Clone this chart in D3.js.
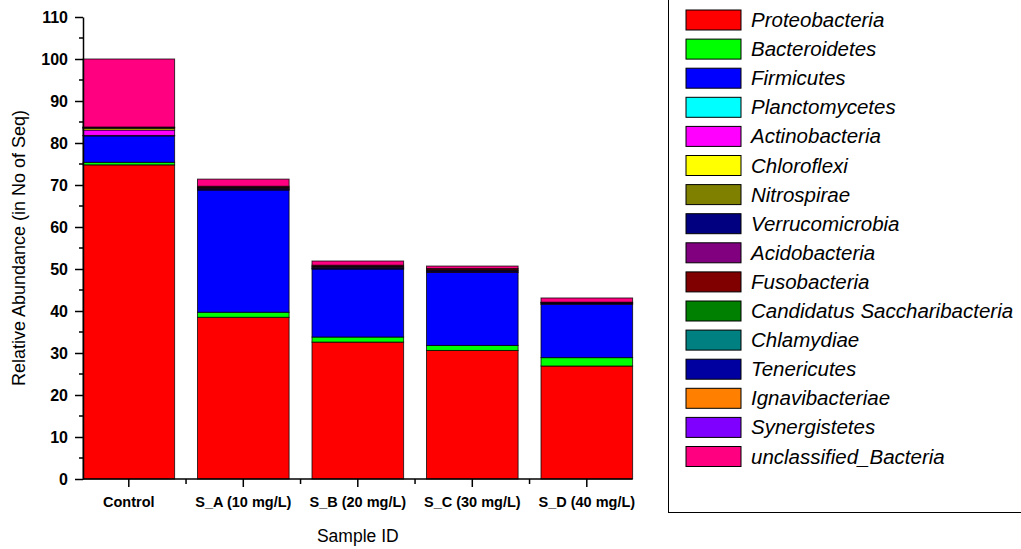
<!DOCTYPE html>
<html><head><meta charset="utf-8">
<script src="https://cdn.jsdelivr.net/npm/d3@7"></script>
<style>body{margin:0;background:#fff}svg{display:block;font-family:"Liberation Sans",Arial,sans-serif}</style>
</head><body><svg id="c" width="1021" height="549"></svg>
<script>
const categories = ["Control","S_A (10 mg/L)","S_B (20 mg/L)","S_C (30 mg/L)","S_D (40 mg/L)"];
const phyla = ["Proteobacteria","Bacteroidetes","Firmicutes","Planctomycetes","Actinobacteria","Chloroflexi","Nitrospirae","Verrucomicrobia","Acidobacteria","Fusobacteria","Candidatus Saccharibacteria","Chlamydiae","Tenericutes","Ignavibacteriae","Synergistetes","unclassified_Bacteria"];
const colors = ["#FF0000","#00FF00","#0000FF","#00FFFF","#FF00FF","#FFFF00","#808000","#000080","#800080","#800000","#008000","#008080","#0000A0","#FF8000","#8000FF","#FF0080"];
const proteobacteria = [74.8,38.5,32.6,30.6,26.9];
const bacteroidetes = [0.6,1.2,1.2,1.2,2.0];
const firmicutes = [6.3,29.1,16.2,17.4,12.7];
const planctomycetes = [0.1,0,0,0,0];
const actinobacteria = [1.3,0.1,0.1,0.1,0.1];
const chloroflexi = [0.4,0,0,0,0];
const nitrospirae = [0.1,0,0,0,0];
const verrucomicrobia = [0.1,0.3,0.3,0.3,0.2];
const acidobacteria = [0.1,0.2,0.2,0.2,0.1];
const fusobacteria = [0,0.3,0.3,0.3,0.1];
const saccharibacteria = [0,0,0,0,0];
const chlamydiae = [0,0,0,0,0];
const tenericutes = [0,0,0,0,0];
const ignavibacteriae = [0,0,0,0,0];
const synergistetes = [0,0,0,0,0];
const unclassified = [16.2,1.7,1.0,0.6,1.0];
const yTicks = [0,10,20,30,40,50,60,70,80,90,100,110];

const seriesVals = [proteobacteria,bacteroidetes,firmicutes,planctomycetes,actinobacteria,chloroflexi,nitrospirae,verrucomicrobia,acidobacteria,fusobacteria,saccharibacteria,chlamydiae,tenericutes,ignavibacteriae,synergistetes,unclassified];
const table = categories.map((c,i)=>{const o={cat:c};phyla.forEach((p,j)=>o[p]=seriesVals[j][i]);return o;});
const stack = d3.stack().keys(phyla)(table);

const svg = d3.select("#c");
const x = d3.scaleBand().domain(categories).range([60.1,655.5]).padding(0.2);
const y = d3.scaleLinear().domain([0,110]).range([479,17]);
const color = d3.scaleOrdinal().domain(phyla).range(colors);

// bars
stack.forEach(s=>{
  svg.append("g").selectAll("rect").data(s.filter(d=>d[1]-d[0]>0)).join("rect")
    .attr("x",d=>x(d.data.cat)).attr("width",x.bandwidth())
    .attr("y",d=>y(d[1])).attr("height",d=>y(d[0])-y(d[1]))
    .attr("fill",color(s.key)).attr("stroke","#000").attr("stroke-width",1).attr("stroke-opacity",0.75);
});

// y axis
const x0 = x(categories[0]);
const yAx = svg.append("g").attr("transform",`translate(${x0},0)`)
  .call(d3.axisLeft(y).tickValues(yTicks).tickSize(8).tickSizeOuter(0));
yAx.select(".domain").attr("stroke-width",1.5);
yAx.selectAll(".tick line").attr("stroke-width",1.5);
yAx.selectAll("text").attr("font-size",16).attr("font-weight","bold").attr("fill","#000").attr("x",-15);
svg.append("g").attr("transform",`translate(${x0},0)`).selectAll("line").data(d3.range(5,110,10)).join("line")
  .attr("x1",-4).attr("x2",0).attr("y1",d=>y(d)).attr("y2",d=>y(d)).attr("stroke","#000").attr("stroke-width",1.5);

// x axis
const xEnd = x(categories[4])+x.bandwidth();
svg.append("line").attr("x1",x0).attr("x2",xEnd).attr("y1",y(0)).attr("y2",y(0)).attr("stroke","#000").attr("stroke-width",1.5);
const xAx = svg.append("g").attr("transform",`translate(0,${y(0)})`)
  .call(d3.axisBottom(x).tickSize(8).tickSizeOuter(0));
xAx.select(".domain").remove();
xAx.selectAll(".tick line").attr("stroke-width",1.5);
xAx.selectAll("text").attr("font-size",14.5).attr("font-weight","bold").attr("fill","#000").attr("dy","1.2em");
svg.append("g").selectAll("line").data(categories.slice(0,4)).join("line")
  .attr("x1",d=>x(d)+x.bandwidth()/2+x.step()/2).attr("x2",d=>x(d)+x.bandwidth()/2+x.step()/2)
  .attr("y1",y(0)).attr("y2",y(0)+5).attr("stroke","#000").attr("stroke-width",1.5);

// titles
svg.append("text").attr("x",(x0+xEnd)/2).attr("y",542).attr("text-anchor","middle").attr("font-size",17.5).text("Sample ID");
svg.append("text").attr("transform",`translate(25,${y(55)}) rotate(-90)`).attr("text-anchor","middle").attr("font-size",18).text("Relative Abundance (in No of Seq)");

// legend
svg.append("rect").attr("x",668.5).attr("y",-2).attr("width",400).attr("height",514.5).attr("fill","none").attr("stroke","#000").attr("stroke-width",1);
const lg = svg.append("g").selectAll("g").data(phyla).join("g").attr("transform",(d,i)=>`translate(686,${10+i*29.1})`);
lg.append("rect").attr("x",0).attr("y",0).attr("width",55).attr("height",20).attr("fill",d=>color(d)).attr("stroke","#000").attr("stroke-width",1);
lg.append("text").attr("x",65).attr("y",17).attr("font-size",20.5).attr("font-style","italic").text(d=>d);
</script></body></html>
